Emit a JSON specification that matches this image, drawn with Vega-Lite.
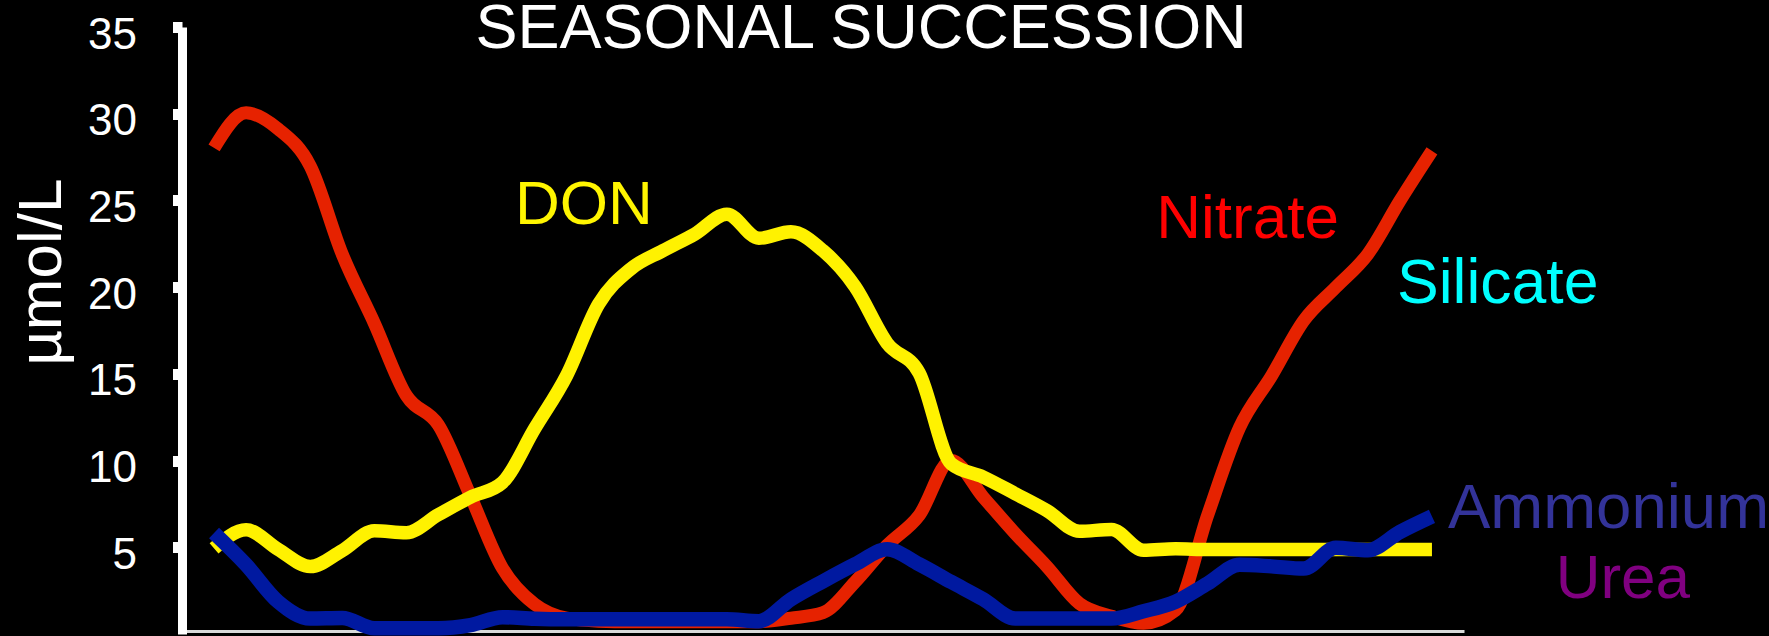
{
  "$schema": "https://vega.github.io/schema/vega-lite/v6.json",
  "width": 1282,
  "height": 607,
  "autosize": {"type": "none"},
  "padding": {"left": 182, "top": 27, "right": 305, "bottom": 2},
  "background": "#000000",
  "config": {"view": {"stroke": null}, "font": "Liberation Sans"},
  "datasets": {
    "nutrients": [
      {"t": 0, "Nitrate": 28.03, "DON": 4.94, "Ammonium": 5.82},
      {"t": 1, "Nitrate": 30.05, "DON": 6.01, "Ammonium": 3.99},
      {"t": 2, "Nitrate": 29.12, "DON": 4.88, "Ammonium": 1.86},
      {"t": 3, "Nitrate": 26.99, "DON": 3.89, "Ammonium": 0.89},
      {"t": 4, "Nitrate": 21.90, "DON": 4.81, "Ammonium": 0.92},
      {"t": 5, "Nitrate": 17.92, "DON": 5.95, "Ammonium": 0.33},
      {"t": 6, "Nitrate": 13.75, "DON": 5.84, "Ammonium": 0.33},
      {"t": 7, "Nitrate": 12.05, "DON": 6.88, "Ammonium": 0.33},
      {"t": 8, "Nitrate": 7.96, "DON": 7.89, "Ammonium": 0.51},
      {"t": 9, "Nitrate": 3.79, "DON": 8.74, "Ammonium": 0.97},
      {"t": 10, "Nitrate": 1.72, "DON": 11.83, "Ammonium": 0.88},
      {"t": 11, "Nitrate": 0.91, "DON": 14.90, "Ammonium": 0.85},
      {"t": 12, "Nitrate": 0.74, "DON": 19.03, "Ammonium": 0.85},
      {"t": 13, "Nitrate": 0.71, "DON": 21.05, "Ammonium": 0.85},
      {"t": 14, "Nitrate": 0.71, "DON": 22.10, "Ammonium": 0.85},
      {"t": 15, "Nitrate": 0.71, "DON": 23.06, "Ammonium": 0.85},
      {"t": 16, "Nitrate": 0.71, "DON": 24.21, "Ammonium": 0.85},
      {"t": 17, "Nitrate": 0.71, "DON": 22.82, "Ammonium": 0.74},
      {"t": 18, "Nitrate": 0.91, "DON": 23.19, "Ammonium": 2.00},
      {"t": 19, "Nitrate": 1.23, "DON": 22.10, "Ammonium": 3.04},
      {"t": 20, "Nitrate": 3.00, "DON": 20.03, "Ammonium": 4.02},
      {"t": 21, "Nitrate": 5.11, "DON": 16.77, "Ammonium": 4.88},
      {"t": 22, "Nitrate": 6.84, "DON": 15.05, "Ammonium": 4.02},
      {"t": 23, "Nitrate": 10.01, "DON": 9.82, "Ammonium": 3.00},
      {"t": 24, "Nitrate": 7.89, "DON": 9.05, "Ammonium": 2.00},
      {"t": 25, "Nitrate": 5.79, "DON": 8.09, "Ammonium": 0.89},
      {"t": 26, "Nitrate": 3.86, "DON": 7.10, "Ammonium": 0.89},
      {"t": 27, "Nitrate": 1.76, "DON": 5.92, "Ammonium": 0.89},
      {"t": 28, "Nitrate": 1.02, "DON": 6.03, "Ammonium": 0.89},
      {"t": 29, "Nitrate": 0.62, "DON": 4.83, "Ammonium": 1.31},
      {"t": 30, "Nitrate": 1.37, "DON": 4.91, "Ammonium": 1.86},
      {"t": 31, "Nitrate": 6.84, "DON": 4.87, "Ammonium": 2.91},
      {"t": 32, "Nitrate": 11.92, "DON": 4.87, "Ammonium": 3.99},
      {"t": 33, "Nitrate": 14.90, "DON": 4.87, "Ammonium": 3.90},
      {"t": 34, "Nitrate": 18.07, "DON": 4.87, "Ammonium": 3.77},
      {"t": 35, "Nitrate": 19.99, "DON": 4.87, "Ammonium": 4.97},
      {"t": 36, "Nitrate": 21.91, "DON": 4.87, "Ammonium": 4.83},
      {"t": 37, "Nitrate": 24.98, "DON": 4.87, "Ammonium": 5.88},
      {"t": 38, "Nitrate": 27.86, "DON": 4.87, "Ammonium": 6.78}
    ],
    "labels": [
      {"label": "SEASONAL SUCCESSION"},
      {"label": "DON"},
      {"label": "Nitrate"},
      {"label": "Silicate"},
      {"label": "Ammonium"},
      {"label": "Urea"}
    ]
  },
  "layer": [
    {
      "data": {"name": "nutrients"},
      "mark": {"type": "line", "color": "#E62200", "strokeWidth": 13, "strokeCap": "butt", "interpolate": "monotone"},
      "encoding": {
        "x": {
          "field": "t",
          "type": "quantitative",
          "scale": {"domain": [-1, 39], "nice": false, "zero": false},
          "axis": {
            "title": null,
            "labels": false,
            "ticks": false,
            "grid": false,
            "domainColor": "#d9d9d9",
            "domainWidth": 3,
            "offset": -3
          }
        },
        "y": {
          "field": "Nitrate",
          "type": "quantitative",
          "scale": {"domain": [0, 35], "nice": false},
          "axis": {
            "title": "µmol/L",
            "titleColor": "#ffffff",
            "titleFont": "Liberation Sans",
            "titleFontSize": 62,
            "titleFontWeight": "normal",
            "titleAngle": -90,
            "titleX": -122,
            "titleY": 244.7,
            "titleAlign": "center",
            "titleBaseline": "alphabetic",
            "values": [5, 10, 15, 20, 25, 30, 35],
            "domainColor": "#ffffff",
            "domainWidth": 9,
            "tickColor": "#ffffff",
            "tickWidth": 11,
            "tickSize": 9.5,
            "labelColor": "#ffffff",
            "labelFont": "Liberation Sans",
            "labelFontSize": 44,
            "labelPadding": 36,
            "labelBaseline": "alphabetic",
            "labelOffset": 21,
            "labelOverlap": false,
            "grid": false
          }
        }
      }
    },
    {
      "data": {"name": "nutrients"},
      "mark": {"type": "line", "color": "#FFF200", "strokeWidth": 13.5, "strokeCap": "butt", "interpolate": "monotone"},
      "encoding": {
        "x": {"field": "t", "type": "quantitative"},
        "y": {"field": "DON", "type": "quantitative"}
      }
    },
    {
      "data": {"name": "nutrients"},
      "mark": {"type": "line", "color": "#0019A0", "strokeWidth": 14.5, "strokeCap": "butt", "interpolate": "monotone"},
      "encoding": {
        "x": {"field": "t", "type": "quantitative"},
        "y": {"field": "Ammonium", "type": "quantitative"}
      }
    },
    {
      "data": {"name": "labels"},
      "transform": [{"filter": "datum.label === 'SEASONAL SUCCESSION'"}],
      "mark": {"type": "text", "color": "#ffffff", "fontSize": 63, "font": "Liberation Sans", "align": "center", "baseline": "alphabetic"},
      "encoding": {"x": {"datum": 20.19}, "y": {"datum": 33.77}, "text": {"field": "label", "type": "nominal"}}
    },
    {
      "data": {"name": "labels"},
      "transform": [{"filter": "datum.label === 'DON'"}],
      "mark": {"type": "text", "color": "#FFF500", "fontSize": 62, "font": "Liberation Sans", "align": "left", "baseline": "alphabetic"},
      "encoding": {"x": {"datum": 9.39}, "y": {"datum": 23.65}, "text": {"field": "label", "type": "nominal"}}
    },
    {
      "data": {"name": "labels"},
      "transform": [{"filter": "datum.label === 'Nitrate'"}],
      "mark": {"type": "text", "color": "#FF0000", "fontSize": 62, "font": "Liberation Sans", "align": "left", "baseline": "alphabetic"},
      "encoding": {"x": {"datum": 29.4}, "y": {"datum": 22.82}, "text": {"field": "label", "type": "nominal"}}
    },
    {
      "data": {"name": "labels"},
      "transform": [{"filter": "datum.label === 'Silicate'"}],
      "mark": {"type": "text", "color": "#00FFFF", "fontSize": 62.5, "font": "Liberation Sans", "align": "left", "baseline": "alphabetic"},
      "encoding": {"x": {"datum": 36.91}, "y": {"datum": 19.11}, "text": {"field": "label", "type": "nominal"}}
    },
    {
      "data": {"name": "labels"},
      "transform": [{"filter": "datum.label === 'Ammonium'"}],
      "mark": {"type": "text", "color": "#333399", "fontSize": 63.5, "font": "Liberation Sans", "align": "left", "baseline": "alphabetic"},
      "encoding": {"x": {"datum": 38.5}, "y": {"datum": 6.09}, "text": {"field": "label", "type": "nominal"}}
    },
    {
      "data": {"name": "labels"},
      "transform": [{"filter": "datum.label === 'Urea'"}],
      "mark": {"type": "text", "color": "#800080", "fontSize": 62, "font": "Liberation Sans", "align": "left", "baseline": "alphabetic"},
      "encoding": {"x": {"datum": 41.86}, "y": {"datum": 2.06}, "text": {"field": "label", "type": "nominal"}}
    }
  ]
}
